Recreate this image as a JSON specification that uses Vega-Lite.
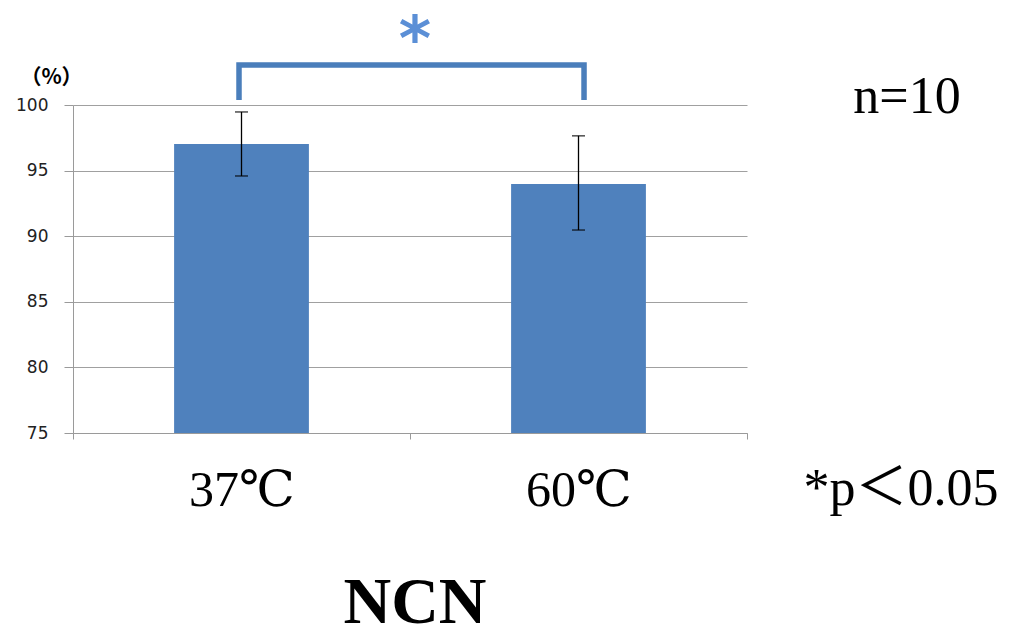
{
  "$schema": "https://vega.github.io/schema/vega-lite/v6.json",
  "autosize": "none",
  "width": 674,
  "height": 328,
  "padding": {"left": 73, "top": 105, "right": 272, "bottom": 204},
  "background": "white",
  "config": {
    "view": {"stroke": null},
    "axisY": {
      "titleFont": "Noto Sans CJK JP", "titleFontSize": 21, "titleFontWeight": "bold",
      "titleColor": "black", "titleAngle": 0, "titleAlign": "center", "titleBaseline": "middle",
      "titleX": -22, "titleY": -28
    }
  },
  "layer": [
    {
      "data": {"values": [
        {"temp": "37℃", "mean": 97.03, "lo": 94.59, "hi": 99.47},
        {"temp": "60℃", "mean": 93.98, "lo": 90.47, "hi": 97.65}
      ]},
      "encoding": {
        "x": {
          "field": "temp", "type": "nominal", "sort": null,
          "scale": {"paddingInner": 0, "paddingOuter": 0},
          "axis": {
            "title": null, "labelAngle": 0, "tickBand": "extent",
            "domainColor": "#9a9a9a", "tickColor": "#9a9a9a", "tickSize": 6,
            "labelFont": "Liberation Serif, DejaVu Serif, Noto Sans CJK JP",
            "labelFontSize": 50, "labelColor": "black",
            "labelBaseline": "alphabetic", "labelPadding": 66, "grid": false
          }
        }
      },
      "layer": [
        {
          "mark": {"type": "bar", "color": "#4f81bd", "width": {"band": 0.4}},
          "encoding": {
            "y": {
              "field": "mean", "type": "quantitative",
              "scale": {"domain": [75, 100], "nice": false, "zero": false},
              "axis": {
                "title": "（%）", "titleFontSize": 21,
                "values": [75, 80, 85, 90, 95, 100], "tickSize": 9,
                "tickColor": "#9a9a9a", "domainColor": "#9a9a9a",
                "gridColor": "#a0a0a0", "gridOpacity": 1,
                "labelFont": "DejaVu Sans", "labelFontSize": 17, "labelColor": "#222222",
                "labelPadding": 16
              }
            },
            "y2": {"datum": 75}
          }
        },
        {
          "mark": {"type": "rule", "color": "black", "strokeWidth": 1.3},
          "encoding": {
            "y": {"field": "lo", "type": "quantitative", "scale": {"domain": [75, 100], "nice": false, "zero": false}},
            "y2": {"field": "hi"}
          }
        },
        {
          "mark": {"type": "tick", "color": "black", "size": 13, "thickness": 1.5},
          "encoding": {
            "y": {"field": "lo", "type": "quantitative", "scale": {"domain": [75, 100], "nice": false, "zero": false}}
          }
        },
        {
          "mark": {"type": "tick", "color": "black", "size": 13, "thickness": 1.5},
          "encoding": {
            "y": {"field": "hi", "type": "quantitative", "scale": {"domain": [75, 100], "nice": false, "zero": false}}
          }
        }
      ]
    },
    {
      "layer": [
        {
          "data": {"values": [
            {"k": 1, "bx": 0.2463, "by": 100.38},
            {"k": 2, "bx": 0.2463, "by": 103.05},
            {"k": 3, "bx": 0.7582, "by": 103.05},
            {"k": 4, "bx": 0.7582, "by": 100.38}
          ]},
          "mark": {"type": "line", "color": "#4a7ebb", "strokeWidth": 5.5, "strokeCap": "butt", "strokeJoin": "miter", "clip": false},
          "encoding": {
            "x": {"field": "bx", "type": "quantitative", "scale": {"domain": [0, 1], "nice": false, "zero": false}, "axis": null},
            "y": {"field": "by", "type": "quantitative", "scale": {"domain": [75, 100], "nice": false, "zero": false}, "axis": null},
            "order": {"field": "k"}
          }
        },
        {
          "data": {"values": [{"label": "*", "nx": 0.5074, "ny": 105.95}]},
          "mark": {"type": "text", "color": "#5b8fd6", "font": "DejaVu Sans", "fontSize": 62, "fontWeight": "bold", "baseline": "middle", "align": "center", "dy": 14, "clip": false},
          "encoding": {
            "x": {"field": "nx", "type": "quantitative", "scale": {"domain": [0, 1], "nice": false, "zero": false}, "axis": null},
            "y": {"field": "ny", "type": "quantitative", "scale": {"domain": [75, 100], "nice": false, "zero": false}, "axis": null},
            "text": {"field": "label"}
          }
        },
        {
          "data": {"values": [
            {"label": "n=10", "nx": 1.2374, "ny": 99.39},
            {"label": "*p＜0.05", "nx": 1.2285, "ny": 69.51}
          ]},
          "mark": {"type": "text", "color": "black", "font": "Liberation Serif, DejaVu Serif, Noto Sans CJK JP", "fontSize": 52, "baseline": "alphabetic", "align": "center", "clip": false},
          "encoding": {
            "x": {"field": "nx", "type": "quantitative", "scale": {"domain": [0, 1], "nice": false, "zero": false}, "axis": null},
            "y": {"field": "ny", "type": "quantitative", "scale": {"domain": [75, 100], "nice": false, "zero": false}, "axis": null},
            "text": {"field": "label"}
          }
        },
        {
          "data": {"values": [{"label": "NCN", "nx": 0.5074, "ny": 60.52}]},
          "mark": {"type": "text", "color": "black", "font": "Liberation Serif, DejaVu Serif", "fontSize": 66, "fontWeight": "bold", "baseline": "alphabetic", "align": "center", "clip": false},
          "encoding": {
            "x": {"field": "nx", "type": "quantitative", "scale": {"domain": [0, 1], "nice": false, "zero": false}, "axis": null},
            "y": {"field": "ny", "type": "quantitative", "scale": {"domain": [75, 100], "nice": false, "zero": false}, "axis": null},
            "text": {"field": "label"}
          }
        }
      ]
    }
  ],
  "resolve": {"scale": {"x": "independent", "y": "independent"}}
}
